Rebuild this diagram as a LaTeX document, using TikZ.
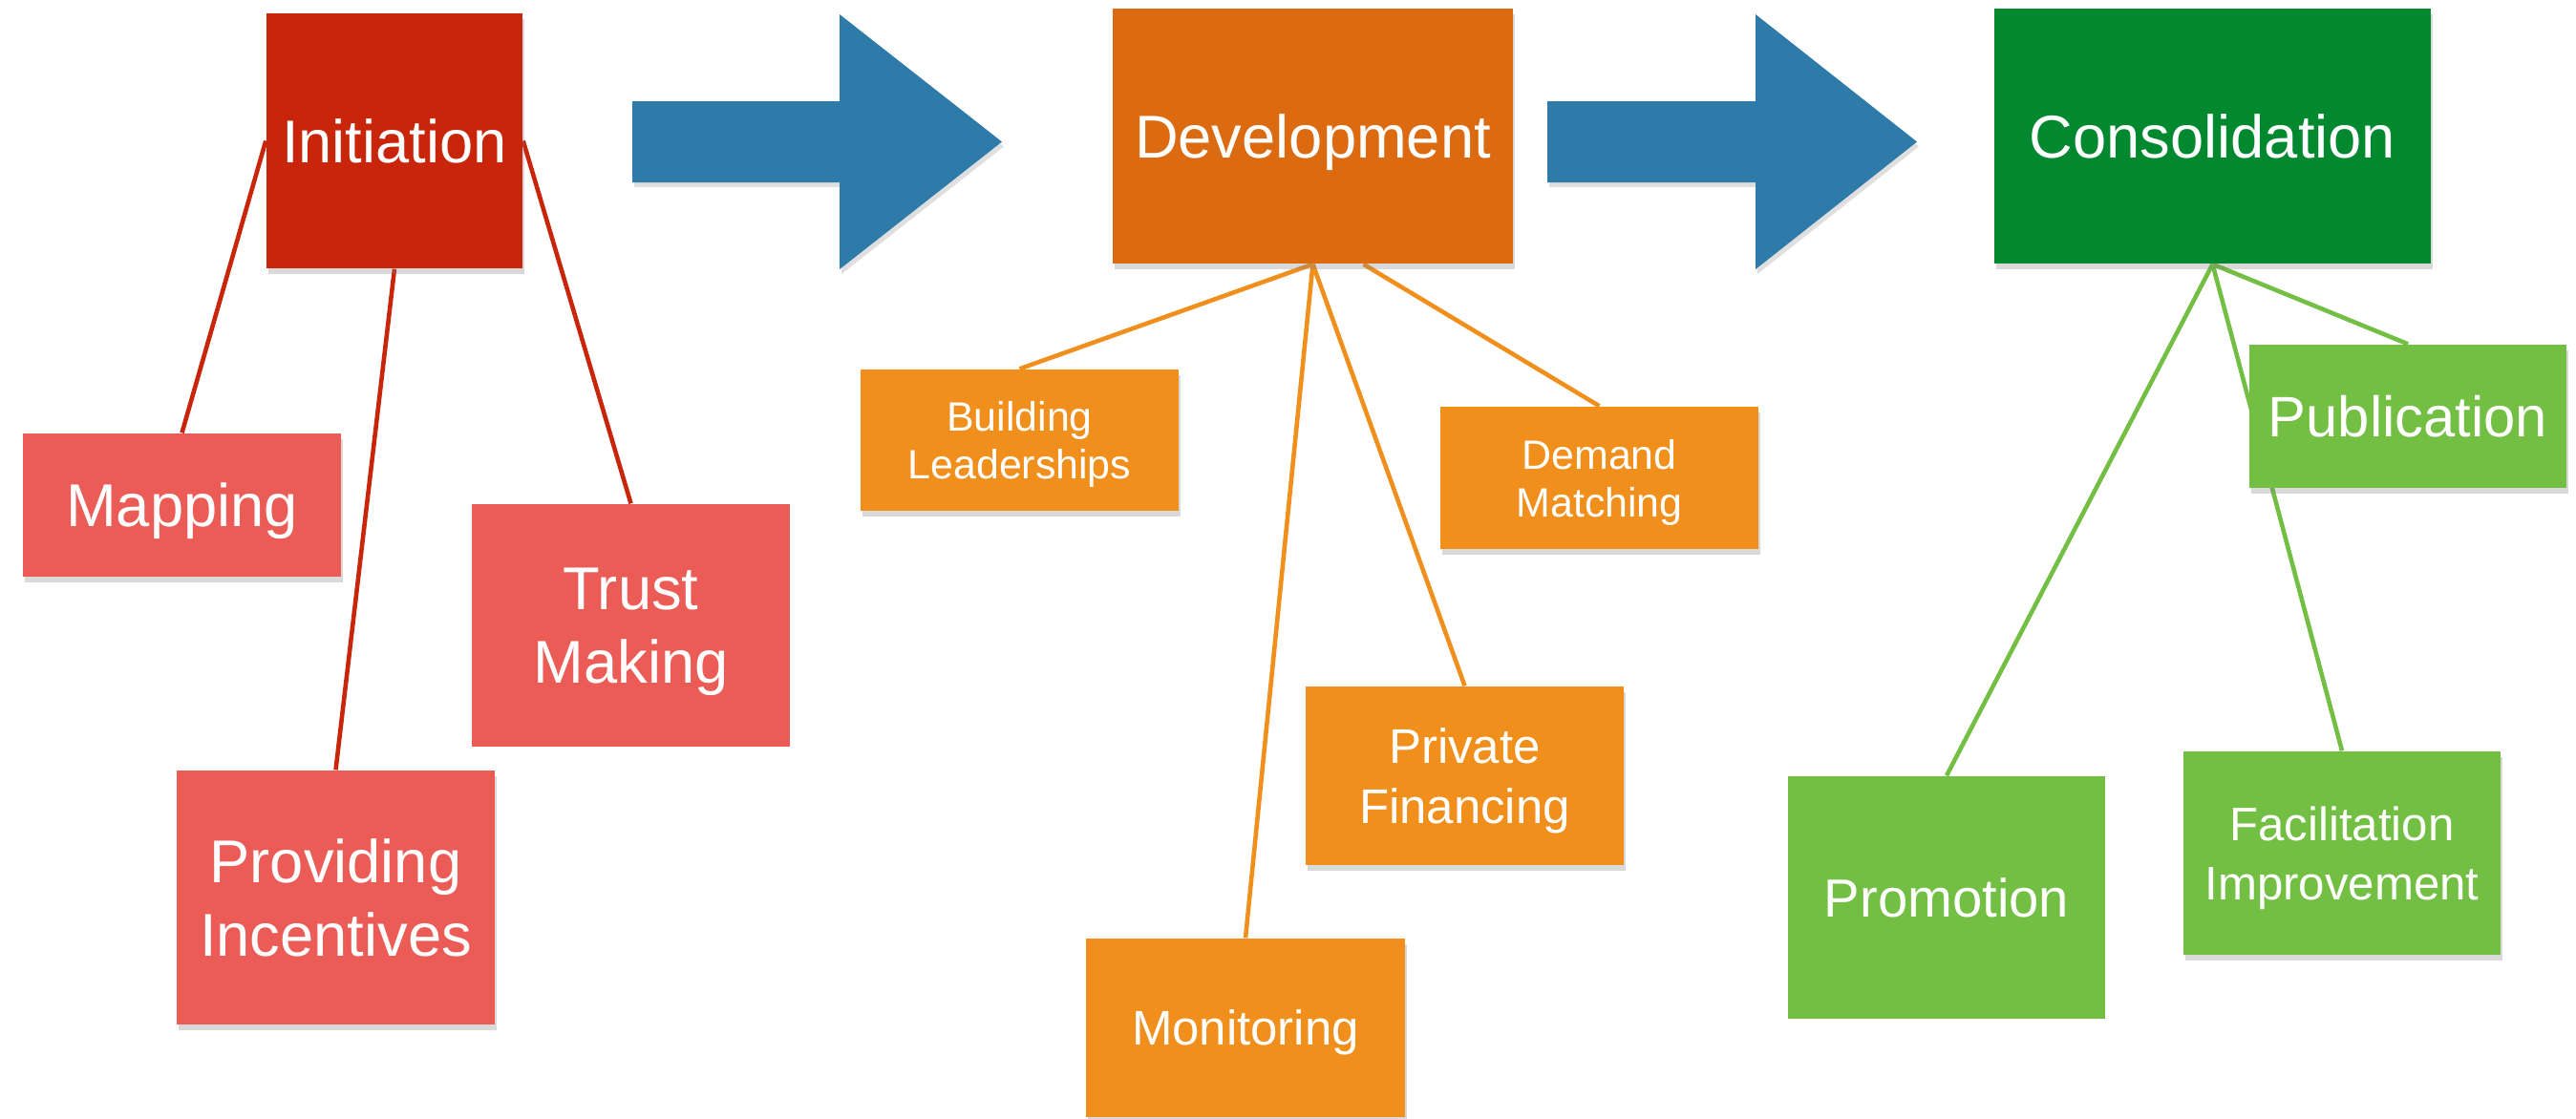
\documentclass[tikz,border=0pt]{standalone}
\usepackage{xcolor}
\usepackage{fontspec}
\setmainfont{Liberation Sans}
\usepackage{tikz}
\usetikzlibrary{shapes,arrows,positioning,shadows,backgrounds}

\definecolor{initred}{HTML}{C8250A}
\definecolor{subred}{HTML}{EB5C57}
\definecolor{devorange}{HTML}{DC6A10}
\definecolor{suborange}{HTML}{F18F1C}
\definecolor{consgreen}{HTML}{02882E}
\definecolor{subgreen}{HTML}{72BF44}
\definecolor{arrowblue}{HTML}{2E7BAA}

\begin{document}
\begin{tikzpicture}[
  box/.style={rectangle, draw=none, text=white, align=center, inner sep=2pt, text depth=0pt},
  lifted/.style={drop shadow={shadow xshift=0.02cm, shadow yshift=-0.06cm, opacity=0.3}},
  bigtext/.style={font=\fontsize{18}{22}\selectfont},
  midtext/.style={font=\fontsize{14.5}{18}\selectfont},
  smalltext/.style={font=\fontsize{12.2}{14.2}\selectfont},
  redline/.style={draw=initred, line width=1.3pt},
  orangeline/.style={draw=suborange, line width=1.3pt},
  greenline/.style={draw=subgreen, line width=1.3pt},
  bigarrow/.style={fill=arrowblue, drop shadow={shadow xshift=0.02cm, shadow yshift=-0.05cm, opacity=0.25}}
]
\useasboundingbox (0,0) rectangle (26.97,-11.71);

% stage 1
\node (init) [box, lifted, bigtext, fill=initred, minimum width=2.68cm, minimum height=2.67cm] at (4.13,-1.475) {Initiation};
\node (mapping) [box, lifted, bigtext, fill=subred, minimum width=3.33cm, minimum height=1.50cm] at (1.905,-5.29) {Mapping};
\node (trust) [box, bigtext, fill=subred, minimum width=3.33cm, minimum height=2.54cm] at (6.605,-6.55) {Trust\\Making};
\node (incent) [box, lifted, bigtext, fill=subred, minimum width=3.33cm, minimum height=2.66cm] at (3.515,-9.40) {Providing\\Incentives};

% stage 2
\node (dev) [box, lifted, bigtext, fill=devorange, minimum width=4.19cm, minimum height=2.67cm] at (13.745,-1.425) {Development};
\node (lead) [box, lifted, smalltext, fill=suborange, minimum width=3.33cm, minimum height=1.48cm] at (10.675,-4.61) {Building\\Leaderships};
\node (demand) [box, lifted, smalltext, fill=suborange, minimum width=3.33cm, minimum height=1.49cm] at (16.745,-5.005) {Demand\\Matching};
\node (finance) [box, lifted, midtext, fill=suborange, minimum width=3.33cm, minimum height=1.87cm] at (15.335,-8.125) {Private\\Financing};
\node (monitor) [box, lifted, midtext, fill=suborange, minimum width=3.34cm, minimum height=1.87cm] at (13.04,-10.765) {Monitoring};

% stage 3
\node (cons) [box, lifted, bigtext, fill=consgreen, minimum width=4.57cm, minimum height=2.67cm] at (23.165,-1.425) {Consolidation};
\node (publish) [box, lifted, font=\fontsize{17}{21}\selectfont, fill=subgreen, minimum width=3.32cm, minimum height=1.50cm] at (25.21,-4.36) {Publication};
\node (promo) [box, font=\fontsize{16}{20}\selectfont, fill=subgreen, minimum width=3.32cm, minimum height=2.54cm] at (20.38,-9.40) {Promotion};
\node (facil) [box, lifted, font=\fontsize{14}{17.6}\selectfont, fill=subgreen, minimum width=3.32cm, minimum height=2.13cm] at (24.52,-8.935) {Facilitation\\Improvement};

% big arrows between stages
\fill[bigarrow] (6.62,-1.06) -- (8.79,-1.06) -- (8.79,-0.15) -- (10.49,-1.485) -- (8.79,-2.82) -- (8.79,-1.91) -- (6.62,-1.91) -- cycle;
\fill[bigarrow] (16.20,-1.06) -- (18.38,-1.06) -- (18.38,-0.15) -- (20.07,-1.485) -- (18.38,-2.82) -- (18.38,-1.91) -- (16.20,-1.91) -- cycle;

\begin{scope}[on background layer]
\draw[redline] (init.west) -- (mapping.north);
\draw[redline] (init.south) -- (incent.north);
\draw[redline] (init.east) -- (trust.north);

\draw[orangeline] (dev.south) -- (lead.north);
\draw[orangeline] (dev.south) -- (monitor.north);
\draw[orangeline] (dev.south) -- (finance.north);
\draw[orangeline] ([xshift=0.53cm]dev.south) -- (demand.north);

\draw[greenline] (cons.south) -- (promo.north);
\draw[greenline] (cons.south) -- (facil.north);
\draw[greenline] (cons.south) -- (publish.north);
\end{scope}
\end{tikzpicture}
\end{document}
